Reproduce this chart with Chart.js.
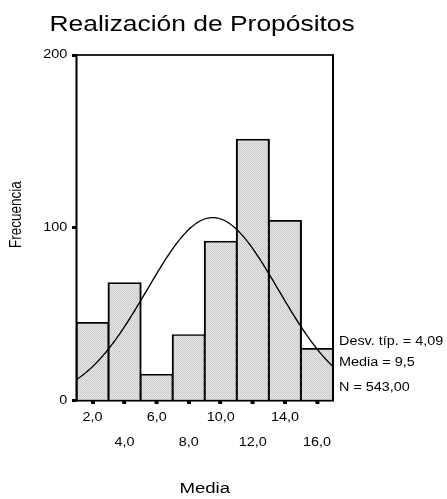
<!DOCTYPE html>
<html lang="es">
<head>
<meta charset="utf-8">
<title>Realización de Propósitos</title>
<script src="https://cdn.jsdelivr.net/npm/chart.js@4.4.1/dist/chart.umd.min.js"></script>
<style>
  html, body { margin: 0; padding: 0; background: #ffffff; }
  #histo { display: block; width: 447px; height: 499px; }
</style>
</head>
<body>
<canvas id="histo" width="447" height="499"></canvas>
<script>
// Histogram bins (centre of each 2-point bin) and their counts
const binCenters = [2, 4, 6, 8, 10, 12, 14, 16];
const frequencies = [45, 68, 15, 38, 92, 151, 104, 30];
const xTickValues = [2, 4, 6, 8, 10, 12, 14, 16];
const yTickValues = [0, 100, 200];
const xRange = [1, 17];
const yRange = [0, 200];

// Summary statistics shown beside the plot
const stdDev = 4.09;
const mean = 9.5;
const count = 543;
const binWidth = 2;
const chartTitle = 'Realización de Propósitos';
const statLabels = ['Desv. típ. = 4,09', 'Media = 9,5', 'N = 543,00'];

// Normal curve fitted with the summary statistics, scaled to bin counts
const curvePoints = [];
for (let i = 0; i <= 160; i++) {
  const x = xRange[0] + i * 0.1;
  const z = (x - mean) / stdDev;
  const y = count * binWidth / (stdDev * Math.sqrt(2 * Math.PI)) * Math.exp(-z * z / 2);
  curvePoints.push({ x: x, y: y });
}

// The whole figure is drawn with a horizontal stretch (wide lettering)
const STRETCH = 1.2;
const CANVAS_W = 447;
const PLOT_RIGHT = 277.5;   // in unstretched units

function fmtDecimal(v) { return v.toFixed(1).replace('.', ','); }

function makeHatch() {
  const c = document.createElement('canvas');
  c.width = 2; c.height = 2;
  const g = c.getContext('2d');
  g.fillStyle = '#e7e7e7'; g.fillRect(0, 0, 2, 2);
  g.fillStyle = '#cbcbcb'; g.fillRect(0, 0, 1, 1); g.fillRect(1, 1, 1, 1);
  const p = g.createPattern(c, 'repeat');
  p.setTransform(new DOMMatrix([1 / STRETCH, 0, 0, 1, 0, 0]));
  return p;
}

const stretchPlugin = {
  id: 'stretch',
  beforeDraw(chart) {
    chart.ctx.save();
    chart.ctx.scale(STRETCH, 1);
  },
  afterDraw(chart) {
    const ctx = chart.ctx;
    const a = chart.chartArea;
    // frame round the plotting area
    ctx.save();
    ctx.strokeStyle = '#000';
    ctx.lineWidth = 1.7;
    ctx.strokeRect(a.left, a.top, a.right - a.left, a.bottom - a.top);
    ctx.restore();
    // heading, centred over the plotting area
    ctx.save();
    ctx.fillStyle = '#000';
    ctx.font = '22px "Liberation Sans", Arial, sans-serif';
    ctx.textAlign = 'center';
    ctx.textBaseline = 'alphabetic';
    ctx.fillText(chartTitle, (a.left + a.right) / 2 - 2.2, 31);
    ctx.restore();
    // statistics block
    ctx.save();
    ctx.fillStyle = '#000';
    ctx.font = '12px "Liberation Sans", Arial, sans-serif';
    ctx.textAlign = 'left';
    ctx.textBaseline = 'middle';
    const offsets = [-59.5, -38.5, -13];
    statLabels.forEach((t, i) => ctx.fillText(t, a.right + 5, a.bottom + offsets[i]));
    ctx.restore();
    ctx.restore();
  }
};

Chart.defaults.font.family = '"Liberation Sans", Arial, sans-serif';
Chart.defaults.color = '#000';

new Chart(document.getElementById('histo'), {
  type: 'bar',
  data: {
    datasets: [
      {
        type: 'line',
        data: curvePoints,
        borderColor: '#000',
        borderWidth: 1.2,
        pointRadius: 0,
        fill: false,
        tension: 0,
        order: 0
      },
      {
        type: 'bar',
        data: binCenters.map((x, i) => ({ x: x, y: frequencies[i] })),
        backgroundColor: makeHatch(),
        borderColor: '#000',
        borderWidth: 1.7,
        inflateAmount: 0.85,
        barPercentage: 1,
        categoryPercentage: 1,
        order: 1
      }
    ]
  },
  options: {
    responsive: false,
    animation: false,
    events: [],
    layout: { padding: { top: 55, left: 0, bottom: 0, right: CANVAS_W - PLOT_RIGHT } },
    plugins: {
      legend: { display: false },
      tooltip: { enabled: false },
      title: { display: false }
    },
    scales: {
      x: {
        type: 'linear',
        offset: false,
        min: xRange[0],
        max: xRange[1],
        afterBuildTicks(scale) { scale.ticks = xTickValues.map(v => ({ value: v })); },
        afterFit(scale) { scale.height = 98.3; },
        ticks: {
          autoSkip: false,
          maxRotation: 0,
          minRotation: 0,
          padding: 1,
          color: '#000',
          font: { size: 12, lineHeight: 25 / 12 },
          callback: (value, index) => index % 2 === 0 ? fmtDecimal(value) : ['', fmtDecimal(value)]
        },
        grid: {
          display: true,
          offset: false,
          drawOnChartArea: false,
          drawTicks: true,
          tickLength: 3.3,
          tickWidth: 3.3,
          tickColor: '#000'
        },
        border: { display: false },
        title: {
          display: true,
          text: 'Media',
          color: '#000',
          font: { size: 15.5, lineHeight: 1.2 },
          padding: { top: 0, bottom: 1 }
        }
      },
      y: {
        min: yRange[0],
        max: yRange[1],
        afterBuildTicks(scale) { scale.ticks = yTickValues.map(v => ({ value: v })); },
        afterFit(scale) { scale.width = 63.75; },
        ticks: {
          padding: 4,
          color: '#000',
          font: { size: 12 },
          callback: v => String(v)
        },
        grid: {
          display: true,
          drawOnChartArea: false,
          drawTicks: true,
          tickLength: 3.75,
          tickWidth: 3,
          tickColor: '#000'
        },
        border: { display: false },
        title: {
          display: true,
          text: '       Frecuencia',
          color: '#000',
          font: { size: 13.5, lineHeight: 1.2 },
          padding: { top: 6, bottom: 0 }
        }
      }
    }
  },
  plugins: [stretchPlugin]
});
</script>
</body>
</html>
